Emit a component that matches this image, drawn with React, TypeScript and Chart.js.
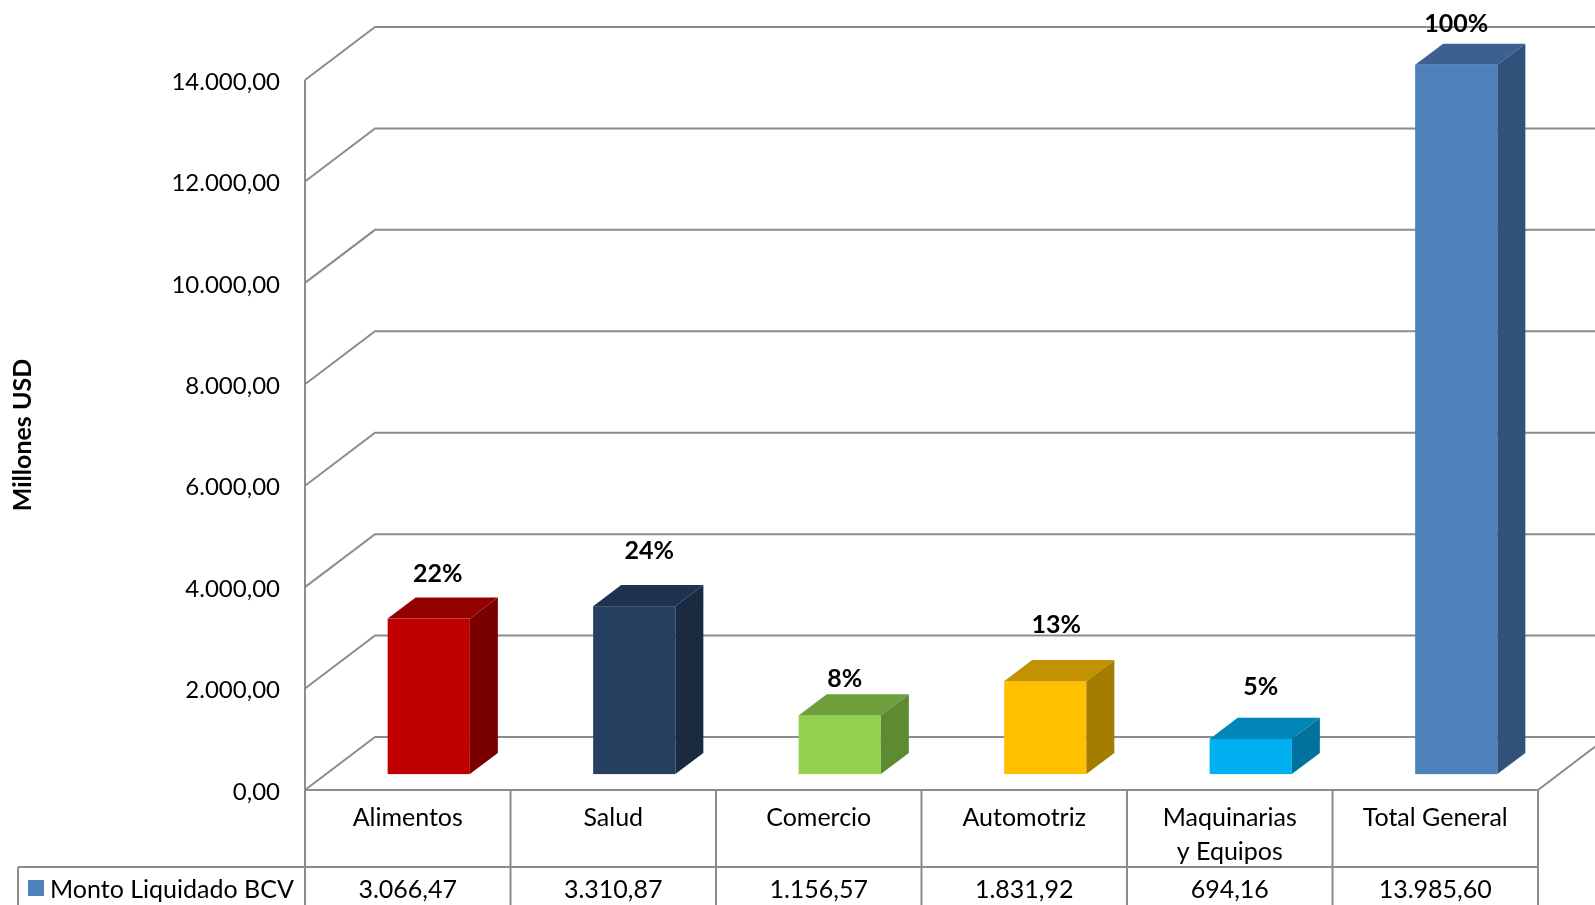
import React, { useEffect, useRef } from 'react';
import { Chart, registerables } from 'chart.js';

Chart.register(...registerables);

// ---------- data ----------
const categories: (string | string[])[] = [
  'Alimentos',
  'Salud',
  'Comercio',
  'Automotriz',
  ['Maquinarias', 'y Equipos'],
  'Total General',
];
const montoLiquidado: number[] = [3066.47, 3310.87, 1156.57, 1831.92, 694.16, 13985.6];
const percentLabels: string[] = ['22%', '24%', '8%', '13%', '5%', '100%'];
const seriesName = 'Monto Liquidado BCV';
const yAxisTitle = 'Millones USD';
const yMin = 0;
const yMax = 14000;
const yStep = 2000;

// ---------- style ----------
const frontColors = ['#C00000', '#254061', '#92D050', '#FFC000', '#00B0F0', '#4F81BD'];
const topColors = ['#920000', '#1F3350', '#6F9E3D', '#C29200', '#0086B7', '#3C6191'];
const sideColors = ['#7A0000', '#1A2B41', '#5E8A34', '#A47C00', '#00729C', '#31527A'];
// manual nudges of the percentage labels (as placed in the original)
const labelShiftX = [0, 6, -4, 2, 1, -9];
const labelShiftY = [23, 34, 15, 35, 31, 20];
const legendColor = '#4F81BD';
const GRID = '#8C8C8C';
const FONT = 'Lato, "Open Sans", sans-serif';
const FS = 25;
const FS_TICK = 24;
const DX = 70; // depth offset of the floor (x)
const DY = 53; // depth offset of the floor (y)
const BAR_FRONT = 0.3; // depth fraction where bars start
const BAR_DEPTH = 0.4; // depth fraction of bars
const HEADER_H = 77;
const LEGEND_LEFT = 18;

function fmt(v: number): string {
  const fixed = Number(v).toFixed(2);
  const [i, d] = fixed.split('.');
  return i.replace(/\B(?=(\d{3})+(?!\d))/g, '.') + ',' + d;
}

const plugin3d = {
  id: 'excel3d',
  beforeDatasetsDraw(chart: any) {
    const { ctx, chartArea, scales } = chart;
    const { left, right, bottom } = chartArea;
    const x = scales.x;
    const y = scales.y;
    const W = chart.width;
    const H = chart.height;
    const n = categories.length;
    const colW = x.getPixelForValue(1) - x.getPixelForValue(0);
    ctx.save();
    ctx.strokeStyle = GRID;
    ctx.lineWidth = 2;
    ctx.beginPath();
    y.ticks.forEach((t: any) => {
      const py = y.getPixelForValue(t.value);
      ctx.moveTo(left, py);
      ctx.lineTo(left + DX, py - DY);
      ctx.lineTo(W, py - DY);
    });
    // vertical axis line through the table
    ctx.moveTo(left, y.getPixelForValue(yMax));
    ctx.lineTo(left, H);
    // floor front edge and right edge
    ctx.moveTo(left, bottom);
    ctx.lineTo(right, bottom);
    ctx.lineTo(right + DX, bottom - DY);
    // table column lines
    for (let i = 1; i <= n; i++) {
      const cx = x.getPixelForValue(i - 1) + colW / 2;
      ctx.moveTo(cx, bottom);
      ctx.lineTo(cx, H);
    }
    const rowY = bottom + HEADER_H;
    ctx.moveTo(LEGEND_LEFT, rowY);
    ctx.lineTo(right, rowY);
    ctx.moveTo(LEGEND_LEFT, rowY);
    ctx.lineTo(LEGEND_LEFT, H);
    ctx.stroke();

    // table text
    ctx.fillStyle = '#000';
    ctx.font = `${FS}px ${FONT}`;
    ctx.textAlign = 'center';
    ctx.textBaseline = 'middle';
    categories.forEach((c, i) => {
      const cx = x.getPixelForValue(i);
      const lines = Array.isArray(c) ? c : [c];
      lines.forEach((ln, k) => ctx.fillText(ln, cx, bottom + 28 + k * 34));
      ctx.fillText(fmt(montoLiquidado[i]), cx, rowY + 23);
    });
    // legend cell
    ctx.fillStyle = legendColor;
    ctx.fillRect(28, rowY + 13, 16, 16);
    ctx.fillStyle = '#000';
    ctx.textAlign = 'left';
    ctx.fillText(seriesName, 50, rowY + 23);
    ctx.restore();
  },
  afterDatasetsDraw(chart: any) {
    const { ctx } = chart;
    const meta = chart.getDatasetMeta(0);
    const fdx = BAR_FRONT * DX;
    const fdy = BAR_FRONT * DY;
    const ddx = BAR_DEPTH * DX;
    const ddy = BAR_DEPTH * DY;
    ctx.save();
    meta.data.forEach((el: any, i: number) => {
      const p = el.getProps(['x', 'y', 'base', 'width'], true);
      const l = p.x - p.width / 2 + fdx;
      const r = l + p.width;
      const t = p.y - fdy;
      const b = p.base - fdy;
      // front
      ctx.fillStyle = frontColors[i];
      ctx.fillRect(l, t, r - l, b - t);
      // top
      ctx.fillStyle = topColors[i];
      ctx.beginPath();
      ctx.moveTo(l, t);
      ctx.lineTo(r, t);
      ctx.lineTo(r + ddx, t - ddy);
      ctx.lineTo(l + ddx, t - ddy);
      ctx.closePath();
      ctx.fill();
      // side
      ctx.fillStyle = sideColors[i];
      ctx.beginPath();
      ctx.moveTo(r, t);
      ctx.lineTo(r + ddx, t - ddy);
      ctx.lineTo(r + ddx, b - ddy);
      ctx.lineTo(r, b);
      ctx.closePath();
      ctx.fill();
      // label
      ctx.fillStyle = '#000';
      ctx.font = `bold ${FS}px ${FONT}`;
      ctx.textAlign = 'center';
      ctx.textBaseline = 'middle';
      ctx.fillText(percentLabels[i], (l + r) / 2 + 9 + labelShiftX[i], t - ddy - labelShiftY[i]);
    });
    ctx.restore();
  },
};

export default function App() {
  const ref = useRef<HTMLCanvasElement | null>(null);
  useEffect(() => {
    if (!ref.current) return;
    const chart = new Chart(ref.current, {
      type: 'bar',
      data: {
        labels: categories.map((c) => (Array.isArray(c) ? c.join(' ') : c)),
        datasets: [
          {
            label: seriesName,
            data: montoLiquidado,
            backgroundColor: 'rgba(0,0,0,0)',
            borderWidth: 0,
            barPercentage: 0.4,
            categoryPercentage: 1.0,
          },
        ],
      },
      options: {
        animation: false,
        responsive: false,
        maintainAspectRatio: false,
        devicePixelRatio: 1,
        layout: { padding: { left: 0, top: 80, right: 57, bottom: 115 } },
        plugins: { legend: { display: false }, tooltip: { enabled: false } },
        scales: {
          x: { display: false, offset: true },
          y: {
            min: yMin,
            max: yMax,
            ticks: {
              stepSize: yStep,
              callback: (v: any) => fmt(Number(v)),
              color: '#000',
              font: { family: FONT, size: FS_TICK },
              padding: 25,
              labelOffset: 2,
            },
            grid: { display: false, drawTicks: false },
            border: { display: false },
            title: {
              display: true,
              text: yAxisTitle,
              color: '#000',
              font: { family: FONT, size: FS, weight: 'bold' },
              padding: { top: 8, bottom: 0 },
            },
            afterFit: (s: any) => {
              s.width = 305;
            },
          },
        },
      },
      plugins: [plugin3d],
    } as any);
    return () => chart.destroy();
  }, []);
  return (
    <div style={{ position: 'fixed', left: 0, top: 0, width: 1595, height: 905, background: '#fff' }}>
      <canvas ref={ref} width={1595} height={905} style={{ width: 1595, height: 905, display: 'block' }} />
    </div>
  );
}
